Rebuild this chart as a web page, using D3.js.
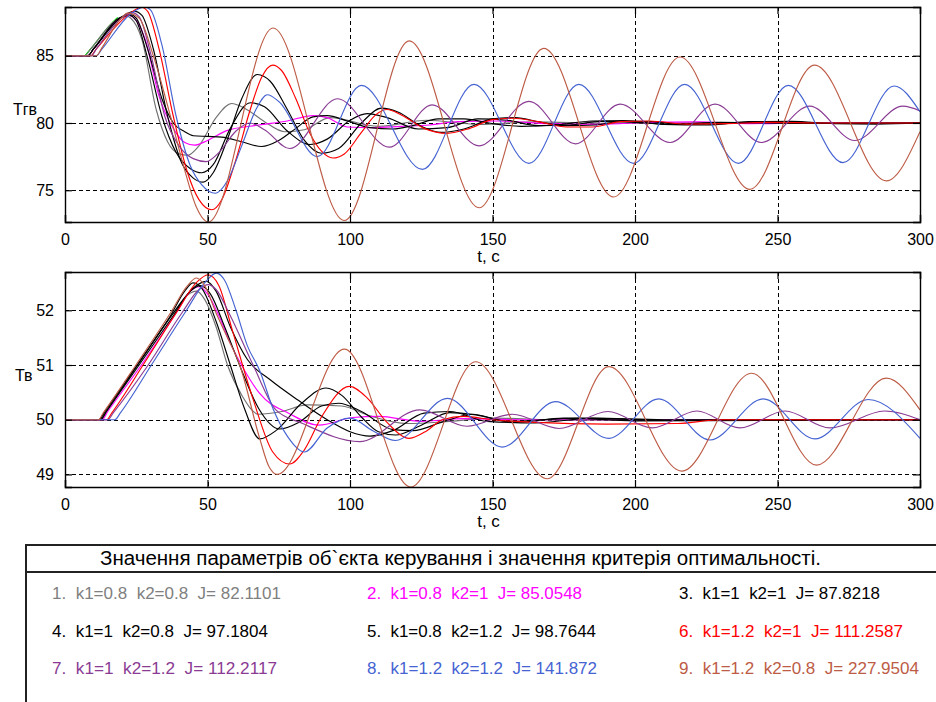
<!DOCTYPE html>
<html>
<head>
<meta charset="utf-8">
<script src="https://cdn.jsdelivr.net/npm/d3@7"></script>
<style>
  body { margin: 0; background: #fff; }
  svg { display: block; }
  text { font-family: "Liberation Sans", Arial, sans-serif; }
</style>
</head>
<body>
<svg id="chart" width="936" height="702"></svg>
<script>
// ---- ticks and labels ----
const timeTicks = [0, 50, 100, 150, 200, 250, 300];
const tgvTicks = [75, 80, 85];
const tvTicks = [49, 50, 51, 52];
const tgvDomain = [72.64, 88.62];
const tvDomain = [48.77, 52.70];

const seriesColors = ["#727272", "#ff00ff", "#000000", "#000000", "#000000",
                      "#ff0000", "#8a3b94", "#4563d2", "#bd5c46"];
const labelColors = ["#808080", "#ff00ff", "#000000", "#000000", "#000000",
                     "#ff0000", "#8a3b94", "#4563d2", "#bd5c46"];
const legendTitle = "Значення параметрів об`єкта керування і значення критерія оптимальності.";
const legendLabels = [
  "1.  k1=0.8  k2=0.8  J= 82.1101",
  "2.  k1=0.8  k2=1  J= 85.0548",
  "3.  k1=1  k2=1  J= 87.8218",
  "4.  k1=1  k2=0.8  J= 97.1804",
  "5.  k1=0.8  k2=1.2  J= 98.7644",
  "6.  k1=1.2  k2=1  J= 111.2587",
  "7.  k1=1  k2=1.2  J= 112.2117",
  "8.  k1=1.2  k2=1.2  J= 141.872",
  "9.  k1=1.2  k2=0.8  J= 227.9504"
];

// ---- Тгв responses: [t, value] ----
const tgv1 = [[0,85],[7,85],[9,85.5],[17,87.5],[20,87.9],[21.5,87.95],[23,87.8],[27,86.2],[32,81],[36,78.6],[40,77.7],[43,77.6],[47,78.3],[53,80.4],[58.5,81.45],[63,81.1],[70,80.1],[77,79.35],[84,79.5],[93,80.4],[110,79.75],[127,80.2],[145,79.9],[165,80.08],[190,79.97],[220,80.02],[300,80]];
const tgv2 = [[0,85],[8,85],[10,85.5],[18,87.6],[21,87.95],[22.5,88.0],[24,87.85],[28,86.3],[33,82],[38,79.6],[42,78.55],[45.5,78.35],[50,78.7],[57,79.45],[68,79.85],[78,80.15],[87,80.55],[92,80.4],[99,79.7],[108,79.65],[118,79.75],[128,79.85],[138,80.1],[152,80.15],[170,79.95],[188,79.9],[205,80.05],[222,80.08],[240,79.95],[260,80],[300,80]];
const tgv3 = [[0,85],[8,85],[10,85.5],[19,87.7],[23,88.05],[25,87.8],[29,85.5],[34,81.8],[38,80],[42,79.35],[45,79.05],[50,79.0],[55,78.95],[62,78.6],[69,78.25],[75,78.7],[81,79.6],[87,80.45],[92,80.55],[99,80.15],[107,79.65],[115,79.55],[122,79.8],[131,80.3],[140,80.3],[150,79.95],[160,79.75],[172,79.85],[185,80.15],[196,80.18],[210,79.9],[225,79.85],[240,80.1],[255,80.12],[270,79.95],[285,79.92],[300,80]];
const tgv4 = [[0,85],[8,85],[10,85.5],[20,87.9],[24.5,88.3],[27,88.0],[31,85.5],[36,80.5],[41,77],[45,75.9],[48.5,75.6],[52,76.3],[57,78.8],[62,81.8],[67.5,83.6],[72,83.1],[78,81],[84,78.7],[90,77.75],[96,78.1],[104,80],[111,81.1],[117,80.8],[125,79.75],[132,79.3],[140,79.55],[150,80.3],[158,80.4],[167,80.05],[176,79.8],[186,79.85],[196,80.15],[206,80.1],[216,79.9],[230,79.95],[245,80.08],[265,79.97],[300,80]];
const tgv5 = [[0,85],[8,85],[10,85.5],[19,87.8],[22.5,88.0],[25,87.6],[29,84.8],[34,80.5],[39,77.8],[44,76.6],[48,76.3],[52,76.9],[58,79.6],[65,81.5],[70,81.2],[78,79.4],[86,78.4],[92,78.8],[100,80.2],[106,80.7],[113,80.4],[124,79.55],[134,79.65],[145,80.3],[155,80.2],[166,79.8],[177,79.85],[188,80.12],[200,80.05],[212,79.9],[230,80.05],[260,79.97],[300,80]];
const tgv6 = [[0,85],[9,85],[11,85.5],[22,88],[26.8,88.6],[29,88.3],[33,85.5],[38,80.5],[43,76.3],[47,74.3],[51.5,73.55],[55,74.3],[60,77.3],[65,81],[69,83.4],[72.9,84.3],[76,83.9],[81,81.8],[86,79.2],[90,77.9],[94,77.4],[98,77.7],[104,79.3],[109,80.6],[113,81.0],[118,80.6],[126,79.6],[134,79.23],[142,79.6],[150,80.25],[157,80.35],[166,80.1],[176,79.7],[185,79.7],[195,80.1],[205,80.15],[218,79.92],[232,79.95],[248,80.05],[265,80],[300,80]];
const tgv7 = [[0,85],[9.3,85],[11,85.5],[20,87.8],[23.5,88.2],[26,87.9],[30,85.2],[35,80.5],[40,78.3],[45,77.35],[49.5,77.13],[54,77.8],[60,79.4],[64.8,80.0],[70,79.5],[78.8,78.1],[95.6,81.8],[113.8,78.2],[128.8,81.35],[145.3,78.3],[162.8,81.6],[179.1,78.45],[194.8,81.4],[212.3,78.55],[228.1,81.4],[244.4,78.55],[261.3,81.25],[277.1,78.7],[294,81.25],[300,80.9]];
const tgv8 = [[0,85],[11,85],[13,85.5],[23,88.1],[27.9,88.62],[30,88.4],[34,85.8],[39,80.5],[44,76.8],[48,75.4],[52.8,74.78],[57,75.7],[62,78.3],[67,81],[71,82.1],[75,81.6],[88.5,77.5],[104,82.8],[125.4,76.55],[143.5,82.87],[162.8,77.0],[180.3,82.87],[199.5,77.0],[217.4,82.87],[236.3,77.0],[253.8,82.8],[273,77.05],[290.9,82.75],[300,80.84]];
const tgv9 = [[0,85],[11,85],[13,85.6],[19,87.6],[22,88.17],[26,87.8],[31,85],[37,80.5],[42,76.5],[46,73.8],[50.3,72.64],[73,87.06],[98,72.75],[120.8,86.1],[145.3,73.7],[168,85.55],[192.5,74.5],[215.8,84.9],[240.3,75.07],[263,84.3],[288.2,75.7],[300,79.35]];
const tgvStart = [[7,85],[9,85.5],[17,87.55],[18.5,87.85]];

// ---- Тв responses: [t, value] ----
const tv1 = [[0,50],[12,50],[14,50.15],[26,51.05],[38,51.95],[43,52.28],[46.1,52.35],[49,52.2],[53,51.7],[57,51.0],[62,50.45],[68,50.1],[76,50.15],[85,50.27],[97,50.25],[107,50.07],[120,49.93],[135,49.97],[150,50.03],[175,49.99],[300,50]];
const tv2 = [[0,50],[13,50],[15,50.15],[26.8,51],[39,51.95],[44,52.35],[47.2,52.43],[50,52.3],[54,51.9],[58,51.4],[63,50.9],[68.3,50.48],[78.8,50.11],[89,49.9],[101,50.04],[110,50.06],[125,49.97],[140,50.02],[160,50],[300,50]];
const tv3 = [[0,50],[12.5,50],[14.5,50.15],[25.5,51.0],[38,51.95],[46,52.45],[49.6,52.53],[53,52.35],[58,51.7],[64,51.1],[72,50.73],[82,50.35],[92,50.0],[100,49.78],[107,49.7],[115,49.8],[126,50.12],[135,50.15],[148,49.97],[165,49.94],[185,50.03],[210,50],[300,50]];
const tv4 = [[0,50],[12,50],[14,50.15],[25.3,51],[37,51.9],[42,52.35],[44.9,52.5],[48,52.4],[53,51.8],[58,51.0],[63,50.2],[68.3,49.65],[74,49.8],[83,50.3],[91.6,50.58],[97,50.45],[104,50.05],[110,49.78],[116,49.72],[125,49.9],[135,50.13],[145,50.08],[158,49.95],[175,50.03],[200,49.98],[300,50]];
const tv5 = [[0,50],[12.5,50],[14.5,50.15],[26,51],[38,51.9],[44,52.35],[47.5,52.45],[51,52.3],[56,51.7],[62,50.9],[68,50.2],[75.3,49.83],[82,49.95],[90,50.25],[96,50.3],[104,50.15],[115,49.82],[122,49.8],[133,49.97],[143,50.1],[155,49.97],[180,50.03],[210,49.99],[300,50]];
const tv6 = [[0,50],[14.6,50],[16.5,50.13],[27.4,51],[39,51.95],[46,52.5],[50.2,52.65],[54,52.45],[58.9,51.6],[65.9,50.39],[72.9,49.41],[78.8,49.19],[84,49.45],[90,50.05],[99.8,50.61],[106,50.4],[113,49.95],[120.8,49.66],[127,49.8],[132.4,50.0],[140,50.06],[150,50.0],[165,49.95],[190,49.92],[215,49.93],[230,50.0],[300,50]];
const tv7 = [[0,50],[15,50],[17,50.13],[29.2,51],[41,51.95],[47,52.38],[50.2,52.47],[53,52.38],[58,51.9],[66,51.0],[74,50.18],[83.4,49.93],[103.3,49.6],[124.5,50.18],[141,49.88],[157,50.1],[173.3,49.84],[190.5,50.15],[206,49.85],[221.7,50.16],[236.8,49.85],[252.6,50.16],[268.4,49.85],[287.6,50.16],[300,50.0]];
const tv8 = [[0,50],[17.5,50],[19.5,50.13],[30.3,51],[42,51.95],[49,52.5],[53.1,52.68],[56,52.55],[60,52.0],[64,51.35],[68.3,50.9],[73,50.2],[78,49.7],[84,49.41],[92,49.85],[100,50.03],[108,49.8],[116,49.62],[134.2,50.39],[153.4,49.5],[172.1,50.33],[190.8,49.66],[208.3,50.38],[226.3,49.63],[245,50.38],[263.1,49.65],[281.8,50.37],[300,49.66]];
const tv9 = [[0,50],[11.7,50],[13.5,50.13],[24.9,51],[37,51.95],[43,52.45],[46.1,52.59],[49,52.45],[53,51.95],[57,51.5],[61.3,51.0],[68.3,49.66],[71.5,49.15],[74.5,49.0],[98,51.29],[121.3,48.77],[144.1,51.06],[169.2,48.92],[190.8,50.97],[216.4,49.06],[240.9,50.85],[263.7,49.17],[288.2,50.76],[300,50.18]];

const tgvSeries = [tgv1, tgv2, tgv3, tgv4, tgv5, tgv6, tgv7, tgv8, tgv9];
const tvSeries = [tv1, tv2, tv3, tv4, tv5, tv6, tv7, tv8, tv9];

const svg = d3.select("#chart");
const plotLeft = 65, plotRight = 920;
const x = d3.scaleLinear().domain([0, 300]).range([plotLeft, plotRight]);

function drawPanel(id, top, bottom, domain, yTicks, series, extras, yLabel, yLabelPos) {
  const y = d3.scaleLinear().domain(domain).range([bottom, top]);
  const g = svg.append("g");

  g.append("clipPath").attr("id", id)
    .append("rect").attr("x", plotLeft).attr("y", top)
    .attr("width", plotRight - plotLeft).attr("height", bottom - top);

  // dashed grid
  const grid = g.append("g").attr("stroke", "#000").attr("stroke-width", 1)
    .attr("stroke-dasharray", "4,3");
  grid.selectAll("line.v").data(timeTicks.filter(d => d > 0 && d < 300)).join("line")
    .attr("x1", d => Math.round(x(d)) + 0.5).attr("x2", d => Math.round(x(d)) + 0.5)
    .attr("y1", top).attr("y2", bottom);
  grid.selectAll("line.h").data(yTicks).join("line")
    .attr("x1", plotLeft).attr("x2", plotRight)
    .attr("y1", d => Math.round(y(d)) + 0.5).attr("y2", d => Math.round(y(d)) + 0.5);

  // curves
  const line = d3.line().x(d => x(d[0])).y(d => y(d[1])).curve(d3.curveMonotoneX);
  const lines = g.append("g").attr("clip-path", `url(#${id})`).attr("fill", "none")
    .attr("stroke-width", 1.15).attr("stroke-linejoin", "round");
  extras.forEach(e => lines.append("path").attr("d", line(e.data)).attr("stroke", e.color));
  series.forEach((s, i) => lines.append("path").attr("d", line(s)).attr("stroke", seriesColors[i]));

  // axes with inward ticks on all four sides
  const fontSize = "16px";
  const axB = g.append("g").attr("transform", `translate(0,${bottom})`)
    .call(d3.axisBottom(x).tickValues(timeTicks).tickSize(-7).tickPadding(12).tickFormat(d3.format("d")));
  const axT = g.append("g").attr("transform", `translate(0,${top})`)
    .call(d3.axisTop(x).tickValues(timeTicks).tickSize(-7).tickFormat(""));
  const axL = g.append("g").attr("transform", `translate(${plotLeft},0)`)
    .call(d3.axisLeft(y).tickValues(yTicks).tickSize(-7).tickPadding(11).tickFormat(d3.format("d")));
  const axR = g.append("g").attr("transform", `translate(${plotRight},0)`)
    .call(d3.axisRight(y).tickValues(yTicks).tickSize(-7).tickFormat(""));
  [axB, axT, axL, axR].forEach(a => {
    a.select(".domain").attr("stroke", "#000").attr("stroke-width", 1.4);
    a.selectAll(".tick line").attr("stroke", "#000").attr("stroke-width", 1.2);
    a.selectAll("text").style("font-size", fontSize).style("fill", "#000")
      .style("font-family", '"Liberation Sans", Arial, sans-serif');
  });

  g.append("text").attr("x", (plotLeft + plotRight) / 2 - 4).attr("y", bottom + 40)
    .attr("text-anchor", "middle").style("font-size", "17px").style("fill", "#000").text("t, c");
  g.append("text").attr("x", yLabelPos[0]).attr("y", yLabelPos[1])
    .style("font-size", "16px").style("fill", "#000").text(yLabel);
}

drawPanel("clipTop", 7, 222, tgvDomain, tgvTicks, tgvSeries,
  [{ data: tgvStart, color: "#00e000" }], "Тгв", [13, 115]);
drawPanel("clipBottom", 272, 487, tvDomain, tvTicks, tvSeries, [], "Тв", [15, 381]);

// ---- parameter table ----
const legend = svg.append("g");
legend.append("rect").attr("x", 26).attr("y", 545).attr("width", 940).attr("height", 200)
  .attr("fill", "none").attr("stroke", "#222").attr("stroke-width", 2);
legend.append("line").attr("x1", 26).attr("x2", 940).attr("y1", 572).attr("y2", 572)
  .attr("stroke", "#222").attr("stroke-width", 2);
legend.append("text").attr("x", 100).attr("y", 565).style("font-size", "20px").style("fill", "#000")
  .attr("textLength", 721).attr("lengthAdjust", "spacingAndGlyphs").text(legendTitle);

const colX = [52, 367, 679];
const rowY = [599, 637, 674];
const labelWidths = [229, 215, 201, 216, 229, 224, 225, 230, 240];
legendLabels.forEach((lab, i) => {
  legend.append("text")
    .attr("x", colX[i % 3]).attr("y", rowY[Math.floor(i / 3)])
    .style("font-size", "17px").style("white-space", "pre")
    .attr("textLength", labelWidths[i]).attr("lengthAdjust", "spacingAndGlyphs")
    .style("fill", labelColors[i])
    .text(lab);
});
</script>
</body>
</html>
